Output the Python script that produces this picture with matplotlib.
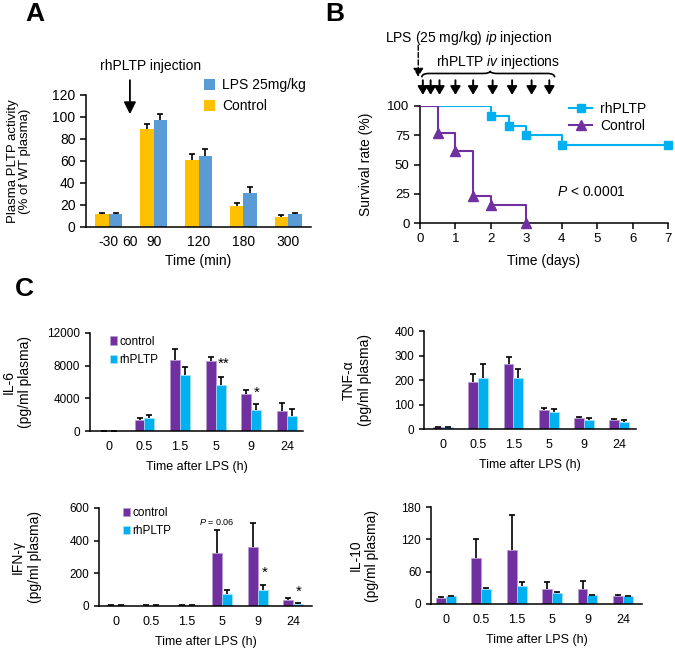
import matplotlib
matplotlib.use('Agg')
import matplotlib.pyplot as plt
import numpy as np
from matplotlib.path import Path
from matplotlib.patches import PathPatch

plt.rcParams['font.family'] = ['Liberation Sans', 'DejaVu Sans']
plt.rcParams['mathtext.fontset'] = 'custom'
plt.rcParams['mathtext.rm'] = 'Liberation Sans'
plt.rcParams['mathtext.it'] = 'Liberation Sans:italic'
plt.rcParams['axes.linewidth'] = 1.1

# ---- panel A: plasma PLTP activity
a_times = ['-30', '90', '120', '180', '300']
a_control = [11.5, 89, 61, 19, 9.5]
a_control_err = [1.5, 5, 5, 3, 1]
a_lps = [12, 97, 65, 31, 12]
a_lps_err = [1, 6, 6, 5, 1]

# ---- panel B: survival (Kaplan-Meier)
b_rh_days = [0, 2, 2.5, 3, 4, 7]
b_rh_surv = [100, 91.7, 83.3, 75, 66.7, 66.7]
b_ctrl_days = [0, 0.5, 1, 1.5, 2, 3]
b_ctrl_surv = [100, 76.9, 61.5, 23.1, 15.4, 0]
b_inj_days = [0.08, 0.3, 0.55, 1.0, 1.5, 2.05, 2.6, 3.15, 3.65]

# ---- panel C: cytokines
c_times = ['0', '0.5', '1.5', '5', '9', '24']
il6_ctrl = [0, 1360, 8740, 8540, 4540, 2470]
il6_ctrl_err = [0, 250, 1250, 540, 500, 900]
il6_rh = [0, 1610, 6880, 5690, 2600, 1810]
il6_rh_err = [0, 410, 950, 870, 650, 830]

tnf_ctrl = [7, 192, 267, 78, 45, 35]
tnf_ctrl_err = [2, 32, 28, 9, 4, 7]
tnf_rh = [8, 210, 210, 68, 38, 29]
tnf_rh_err = [2, 57, 34, 15, 7, 6]

ifn_ctrl = [4, 3, 4, 326, 363, 39]
ifn_ctrl_err = [2, 2, 2, 140, 144, 10]
ifn_rh = [4, 3, 4, 76, 96, 14]
ifn_rh_err = [2, 2, 2, 24, 31, 6]

il10_ctrl = [12, 86, 101, 28, 28, 15]
il10_ctrl_err = [1.5, 35, 65, 12, 15, 1.5]
il10_rh = [14, 28, 34, 21, 16, 14]
il10_rh_err = [1, 2, 6, 2, 1, 1]

orange = '#FFC000'
blue = '#5B9BD5'
purple = '#7030A0'
cyan = '#00B0F0'

fig = plt.figure(figsize=(6.75, 6.48), dpi=100)


def up_errorbar(ax, x, y, err, capsize=2.5):
	eb = ax.errorbar(x, y, yerr=[np.zeros(len(err)), err], fmt='none', ecolor='black',
		elinewidth=1.2, capsize=capsize, capthick=1.2, zorder=3)
	caps = eb[1]
	if len(caps) == 2:
		caps[0].set_visible(False)


def style_axes(ax):
	ax.spines['top'].set_visible(False)
	ax.spines['right'].set_visible(False)
	ax.spines['left'].set_color('black')
	ax.spines['bottom'].set_color('black')


# ===================== A
axA = fig.add_axes([86/675, 1-227/648, 225/675, 132/648])
style_axes(axA)
xa = np.arange(len(a_times))
wa = 0.3
axA.bar(xa - wa/2, a_control, wa, color=orange, label='Control', zorder=2)
axA.bar(xa + wa/2, a_lps, wa, color=blue, label='LPS 25mg/kg', zorder=2)
up_errorbar(axA, xa - wa/2, a_control, a_control_err)
up_errorbar(axA, xa + wa/2, a_lps, a_lps_err)
axA.set_xlim(-0.51, 4.51)
axA.set_ylim(0, 120)
axA.set_yticks([0, 20, 40, 60, 80, 100, 120])
tick_pos = [0, 0.47, 1, 2, 3, 4]
axA.set_xticks(tick_pos)
axA.set_xticklabels(['-30', '60', '90', '120', '180', '300'])
axA.set_xticks([0.47], minor=True)
axA.tick_params(axis='x', which='major', length=0, pad=6, labelsize=10)
axA.tick_params(axis='x', which='minor', length=4, width=1.1)
axA.tick_params(axis='y', labelsize=10, length=4, width=1.1)
axA.set_xlabel('Time (min)', fontsize=10, labelpad=3)
axA.set_ylabel('Plasma PLTP activity\n(% of WT plasma)', fontsize=9.5, linespacing=1.0)
axA.yaxis.set_label_coords(-0.245, 0.5)
h, l = axA.get_legend_handles_labels()
axA.legend(h[::-1], l[::-1], loc='upper left', bbox_to_anchor=(0.5, 1.17), frameon=False,
	fontsize=10, handlelength=0.8, handleheight=0.8, handletextpad=0.5, labelspacing=0.5,
	borderaxespad=0)
axA.annotate('', xy=(0.47, 100), xytext=(0.47, 136), annotation_clip=False,
	arrowprops=dict(arrowstyle='-|>,head_width=0.3,head_length=0.6', color='black', lw=1.3, mutation_scale=12))
axA.text(0.92, 146, 'rhPLTP injection', ha='center', va='center', fontsize=10, clip_on=False)
fig.text(25/675, 1-14/648, 'A', fontsize=19, fontweight='bold', ha='left', va='center')

# ===================== B
axB = fig.add_axes([420/675, 1-223/648, 248/675, 117/648])
style_axes(axB)
axB.step(b_rh_days, b_rh_surv, where='post', color=cyan, lw=1.5, zorder=2)
axB.plot(b_rh_days[1:], b_rh_surv[1:], ls='none', marker='s', ms=6, color=cyan, clip_on=False, zorder=3)
axB.step(b_ctrl_days, b_ctrl_surv, where='post', color=purple, lw=1.5, zorder=4)
axB.plot(b_ctrl_days[1:], b_ctrl_surv[1:], ls='none', marker='^', ms=7, color=purple, clip_on=False, zorder=5)
axB.set_xlim(0, 7)
axB.set_ylim(0, 100)
axB.set_xticks(range(8))
axB.set_yticks([0, 25, 50, 75, 100])
axB.tick_params(labelsize=9.5, length=4, width=1.1)
axB.set_xlabel('Time (days)', fontsize=10, labelpad=6)
axB.set_ylabel('Survival rate (%)', fontsize=10)
axB.yaxis.set_label_coords(-0.19, 0.5)
rh_h = plt.Line2D([], [], color=cyan, lw=1.5, marker='s', ms=6)
ct_h = plt.Line2D([], [], color=purple, lw=1.5, marker='^', ms=7)
axB.legend([rh_h, ct_h], ['rhPLTP', 'Control'], loc='upper left', bbox_to_anchor=(0.58, 1.08),
	frameon=False, fontsize=10, handlelength=1.6, handletextpad=0.6, labelspacing=0.2, borderaxespad=0)
axB.text(3.87, 26.5, '$P$ < 0.0001', fontsize=10, ha='left', va='center')
for d in b_inj_days:
	axB.annotate('', xy=(d, 109.5), xytext=(d, 122), annotation_clip=False,
		arrowprops=dict(arrowstyle='-|>,head_width=0.3,head_length=0.5', color='black', lw=1.4,
			mutation_scale=10, shrinkA=0, shrinkB=0))
axB.annotate('', xy=(-0.05, 125), xytext=(-0.05, 152), annotation_clip=False,
	arrowprops=dict(arrowstyle='-|>,head_width=0.3,head_length=0.5', color='black', lw=1.0, ls='--',
		mutation_scale=10, shrinkA=0, shrinkB=0))
axB.text(-1.0, 158, 'LPS (25 mg/kg) $\\mathit{ip}$ injection', fontsize=10, ha='left', va='center', clip_on=False)
axB.text(2.2, 138, 'rhPLTP $\\mathit{iv}$ injections', fontsize=10, ha='center', va='center', clip_on=False)
# curly brace over the injection arrows
x0, x1, yb, hb = 0.05, 3.8, 124.5, 5.5
xm = 1.98
verts = [(x0, yb), (x0, yb + hb*0.6), (x0 + 0.2, yb + hb*0.6),
	(xm - 0.2, yb + hb*0.6), (xm, yb + hb*0.6), (xm, yb + hb),
	(xm, yb + hb*0.6), (xm + 0.2, yb + hb*0.6),
	(x1 - 0.2, yb + hb*0.6), (x1, yb + hb*0.6), (x1, yb)]
codes = [Path.MOVETO, Path.CURVE3, Path.CURVE3, Path.LINETO, Path.CURVE3, Path.CURVE3,
	Path.CURVE3, Path.CURVE3, Path.LINETO, Path.CURVE3, Path.CURVE3]
axB.add_patch(PathPatch(Path(verts, codes), fill=False, lw=1.2, color='black', clip_on=False))
fig.text(325/675, 1-14/648, 'B', fontsize=19, fontweight='bold', ha='left', va='center')

# ===================== C
fig.text(15/675, 1-289/648, 'C', fontsize=19, fontweight='bold', ha='left', va='center')
wc = 0.28


def cyto_panel(rect, ctrl, ctrl_err, rh, rh_err, ymax, yticks, ylabel, xlim, label_x, legend_at=None):
	ax = fig.add_axes(rect)
	style_axes(ax)
	x = np.arange(len(c_times))
	ax.bar(x - wc/2, ctrl, wc, color=purple, edgecolor='#b89ad0', linewidth=0.5, label='control', zorder=2)
	ax.bar(x + wc/2, rh, wc, color=cyan, edgecolor='#a8e2f8', linewidth=0.5, label='rhPLTP', zorder=2)
	up_errorbar(ax, x - wc/2, ctrl, ctrl_err, capsize=2.2)
	up_errorbar(ax, x + wc/2, rh, rh_err, capsize=2.2)
	ax.set_xlim(*xlim)
	ax.set_ylim(0, ymax)
	ax.set_yticks(yticks)
	ax.set_xticks(x)
	ax.set_xticklabels(c_times)
	ax.tick_params(axis='x', length=0, pad=7, labelsize=9)
	ax.tick_params(axis='y', length=3.5, width=1.1, labelsize=8.5)
	ax.set_xlabel('Time after LPS (h)', fontsize=9, labelpad=6)
	ax.set_ylabel(ylabel, fontsize=10, linespacing=1.25)
	ax.yaxis.set_label_coords(label_x, 0.5)
	if legend_at is not None:
		ax.legend(loc='upper left', bbox_to_anchor=legend_at, frameon=False, fontsize=8.5,
			handlelength=0.6, handleheight=0.7, handletextpad=0.2, labelspacing=0.55, borderaxespad=0)
	return ax


axIL6 = cyto_panel([90/675, 1-431/648, 213/675, 98/648], il6_ctrl, il6_ctrl_err, il6_rh, il6_rh_err,
	12000, [0, 4000, 8000, 12000], 'IL-6\n(pg/ml plasma)', (-0.53, 5.45), -0.272, legend_at=(0.07, 1.02))
axIL6.text(3.05, 8250, '**', fontsize=11, ha='left', va='center')
axIL6.text(4.08, 4650, '*', fontsize=11, ha='left', va='center')

axTNF = cyto_panel([424/675, 1-429/648, 212/675, 98/648], tnf_ctrl, tnf_ctrl_err, tnf_rh, tnf_rh_err,
	400, [0, 100, 200, 300, 400], 'TNF-α\n(pg/ml plasma)', (-0.54, 5.48), -0.245)

axIFN = cyto_panel([99/675, 1-606/648, 213/675, 98/648], ifn_ctrl, ifn_ctrl_err, ifn_rh, ifn_rh_err,
	600, [0, 200, 400, 600], 'IFN-γ\n(pg/ml plasma)', (-0.48, 5.53), -0.268, legend_at=(0.09, 1.06))
axIFN.text(2.85, 512, '$P$ = 0.06', fontsize=6.5, ha='center', va='center')
axIFN.text(4.2, 205, '*', fontsize=11, ha='center', va='center')
axIFN.text(5.15, 85, '*', fontsize=11, ha='center', va='center')

axIL10 = cyto_panel([431/675, 1-604/648, 211/675, 97/648], il10_ctrl, il10_ctrl_err, il10_rh, il10_rh_err,
	180, [0, 60, 120, 180], 'IL-10\n(pg/ml plasma)', (-0.42, 5.54), -0.246)

fig.savefig('out.png', dpi=100)
